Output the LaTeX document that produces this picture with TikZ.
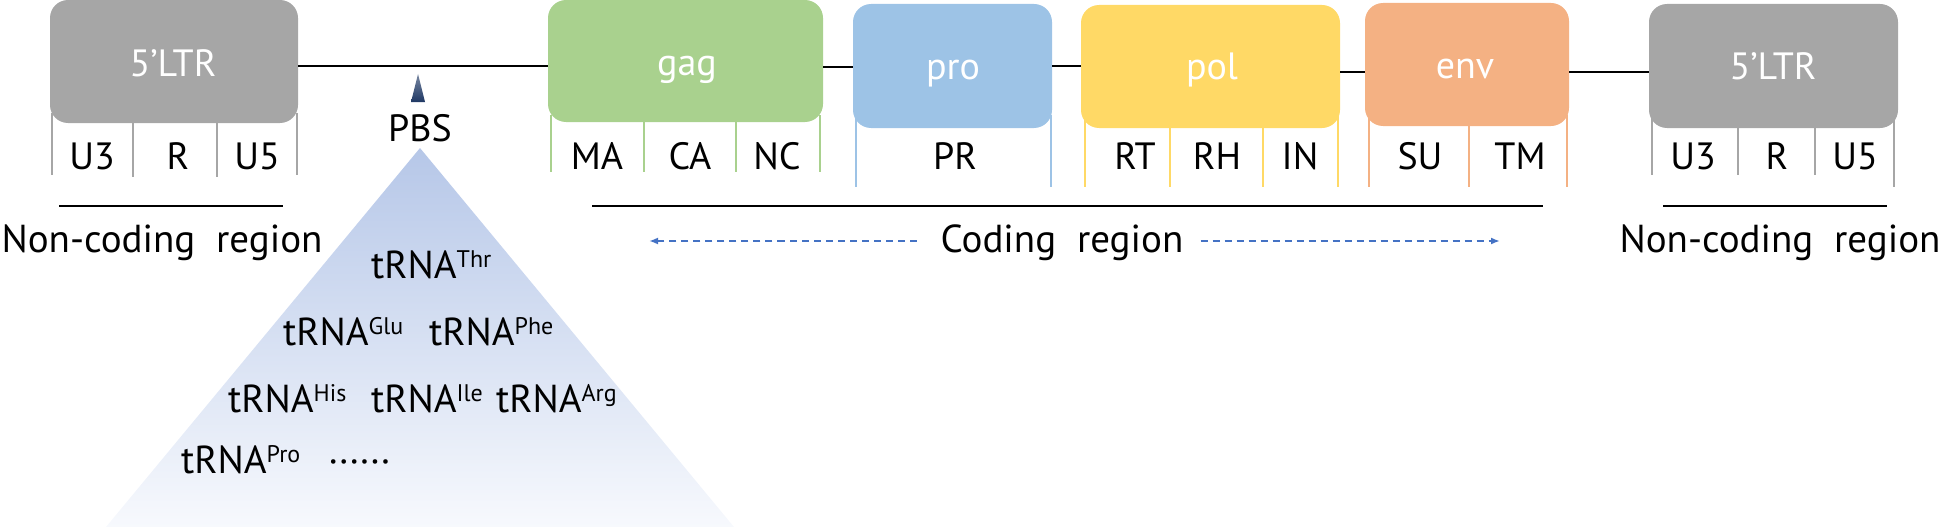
\documentclass[tikz,border=0pt]{standalone}
\usepackage{fontspec}
\setmainfont{PT Sans}
\usetikzlibrary{arrows.meta,calc}
\definecolor{ltrgray}{HTML}{A6A6A6}
\definecolor{gaggreen}{HTML}{A9D18E}
\definecolor{problue}{HTML}{9DC3E6}
\definecolor{polyellow}{HTML}{FFD966}
\definecolor{envorange}{HTML}{F4B183}
\definecolor{arrowblue}{HTML}{4472C4}
\definecolor{tritop}{RGB}{182,199,232}
\definecolor{trimid}{RGB}{224,230,244}
\definecolor{tribot}{RGB}{247,249,253}
\definecolor{pbsnavy}{HTML}{1F3864}
\newcommand\supx[1]{\raisebox{10.5pt}{\fontsize{24}{24}\selectfont #1}}
\begin{document}
\begin{tikzpicture}[x=1pt,y=-1pt,
  genebox/.style={rounded corners=18pt, inner sep=0pt, draw=none},
  genetext/.style={anchor=base, inner sep=0pt, text=white, font=\fontsize{38}{40}\selectfont},
  subtext/.style={anchor=base, inner sep=0pt, font=\fontsize{38}{40}\selectfont},
  regiontext/.style={anchor=base, inner sep=0pt, font=\fontsize{39}{40}\selectfont},
  trnatext/.style={anchor=base west, inner sep=0pt, font=\fontsize{39}{40}\selectfont},
  tickline/.style={line width=2.6pt},
  connline/.style={line width=2.4pt, black},
  underline/.style={line width=2.8pt, black},
  dasharrow/.style={arrowblue, line width=1.8pt, dash pattern=on 7pt off 5pt, -{Latex[length=9pt,width=7pt]}}
]
\useasboundingbox (0,0) rectangle (1949,527);

% triangle with gradient
\shade[top color=tritop, middle color=trimid, bottom color=tribot] (420,148) -- (734,527) -- (106,527) -- cycle;

% gene boxes
\node[genebox, fill=ltrgray, minimum width=248pt, minimum height=123pt] (ltr1) at (174,61.5) {};
\node[genebox, fill=gaggreen, minimum width=275pt, minimum height=122pt] (gag) at (685.5,61) {};
\node[genebox, fill=problue, minimum width=199pt, minimum height=124pt] (pro) at (952.5,66) {};
\node[genebox, fill=polyellow, minimum width=259pt, minimum height=123pt] (pol) at (1210.5,66.5) {};
\node[genebox, fill=envorange, minimum width=204pt, minimum height=123pt] (env) at (1467,64.5) {};
\node[genebox, fill=ltrgray, minimum width=249pt, minimum height=124pt] (ltr2) at (1773.5,66) {};

% box labels
\node[genetext] (ltr1t) at (173,77) {5’LTR};
\node[genetext] (gagt) at (687,75) {gag};
\node[genetext] (prot) at (953,80) {pro};
\node[genetext] (polt) at (1212,80) {pol};
\node[genetext] (envt) at (1465,78) {env};
\node[genetext] (ltr2t) at (1773,80) {5’LTR};

% connectors
\coordinate (ya) at (0,66);
\coordinate (yb) at (0,67);
\coordinate (yc) at (0,72);
\draw[connline] (ltr1.east |- ya) -- (gag.west |- ya);
\draw[connline] (gag.east |- yb) -- (pro.west |- yb);
\draw[connline] (pro.east |- ya) -- (pol.west |- ya);
\draw[connline] (pol.east |- yc) -- (env.west |- yc);
\draw[connline] (env.east |- yc) -- (ltr2.west |- yc);

% ticks
\begin{scope}[draw=ltrgray]
\draw[tickline] (52,113) -- (52,175);
\draw[tickline] (133,123) -- (133,177);
\draw[tickline] (217,123) -- (217,177);
\draw[tickline] (297,113) -- (297,175);
\draw[tickline] (1652,115) -- (1652,175);
\draw[tickline] (1738,128) -- (1738,175);
\draw[tickline] (1815,128) -- (1815,175);
\draw[tickline] (1894,115) -- (1894,187);
\end{scope}
\begin{scope}[draw=gaggreen]
\draw[tickline] (551,115) -- (551,172);
\draw[tickline] (644,122) -- (644,172);
\draw[tickline] (736,122) -- (736,172);
\draw[tickline] (820,115) -- (820,172);
\end{scope}
\begin{scope}[draw=problue]
\draw[tickline] (856,115) -- (856,187);
\draw[tickline] (1051,115) -- (1051,187);
\end{scope}
\begin{scope}[draw=polyellow]
\draw[tickline] (1085,115) -- (1085,187);
\draw[tickline] (1170,128) -- (1170,187);
\draw[tickline] (1263,128) -- (1263,187);
\draw[tickline] (1338,115) -- (1338,187);
\end{scope}
\begin{scope}[draw=envorange]
\draw[tickline] (1369,115) -- (1369,187);
\draw[tickline] (1469,126) -- (1469,187);
\draw[tickline] (1567,115) -- (1567,187);
\end{scope}

% sub labels
\node[subtext] (u3a) at (92,169) {U3};
\node[subtext] (ra) at (178,169) {R};
\node[subtext] (u5a) at (257,169) {U5};
\node[subtext] (ma) at (597,169) {MA};
\node[subtext] (ca) at (690,169) {CA};
\node[subtext] (nc) at (777,169) {NC};
\node[subtext] (pr) at (955,169) {PR};
\node[subtext] (rt) at (1135,169) {RT};
\node[subtext] (rh) at (1217,169) {RH};
\node[subtext] (in) at (1300,169) {IN};
\node[subtext] (su) at (1420,169) {SU};
\node[subtext] (tm) at (1520,169) {TM};
\node[subtext] (u3b) at (1693,169) {U3};
\node[subtext] (rb) at (1777,169) {R};
\node[subtext] (u5b) at (1855,169) {U5};

% under lines
\draw[underline] (59,206) -- (283,206);
\draw[underline] (592,206) -- (1543,206);
\draw[underline] (1663,206) -- (1887,206);

% region labels
\node[regiontext] (ncl) at (162,252) {Non-coding~~region};
\node[regiontext] (ncr) at (1780,252) {Non-coding~~region};
\node[regiontext] (cod) at (1062,252) {Coding~~region};
\coordinate (arrl) at (649,241);
\coordinate (arrr) at (1500,241);
\draw[dasharrow] ([xshift=-24pt]cod.west |- arrl) -- (arrl);
\draw[dasharrow] ([xshift=17pt]cod.east |- arrr) -- (arrr);

% PBS marker
\shade[top color=pbsnavy!60, bottom color=pbsnavy] (418,74) -- (425,102) -- (411,102) -- cycle;
\node[subtext] (pbs) at (420,141) {PBS};

% tRNA list
\node[trnatext] (thr) at (371,278) {tRNA\supx{Thr}};
\node[trnatext] (glu) at (283,345) {tRNA\supx{Glu}};
\node[trnatext] (phe) at (429,345) {tRNA\supx{Phe}};
\node[trnatext] (his) at (228,412) {tRNA\supx{His}};
\node[trnatext] (ile) at (371,412) {tRNA\supx{Ile}};
\node[trnatext] (arg) at (496,412) {tRNA\supx{Arg}};
\node[trnatext] (pro2) at (181,473) {tRNA\supx{Pro}};
\node[trnatext] (dots) at (328,473) {······};
\end{tikzpicture}
\end{document}
